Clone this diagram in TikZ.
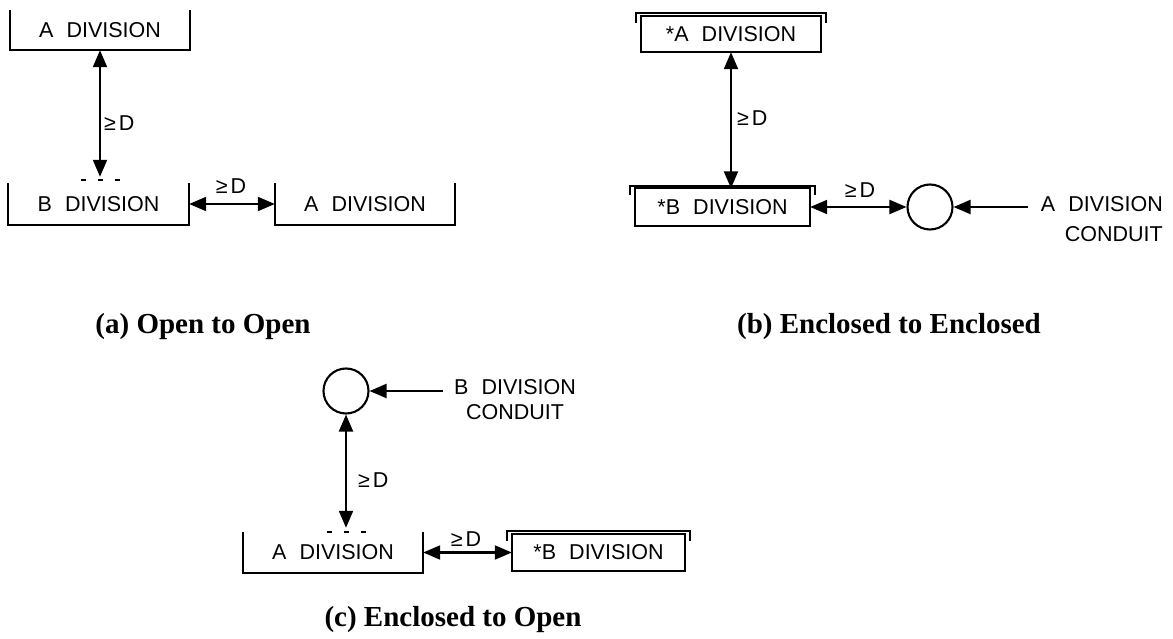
\documentclass[tikz,border=0pt]{standalone}
\usepackage{fontspec}
\setmainfont{Liberation Serif}
\newfontfamily\labfont[WordSpace=2.2]{Liberation Sans}
\usetikzlibrary{arrows.meta}
\tikzset{
  lab/.style={font={\labfont\fontsize{21.5}{25}\selectfont}, inner sep=0pt},
  boxn/.style={lab},
  boxline/.style={line width=2.1pt, line join=miter},
  conn/.style={line width=2.1pt, -{Triangle[length=17pt,width=14pt]}},
  dconn/.style={line width=2.1pt, {Triangle[length=17pt,width=14pt]}-{Triangle[length=17pt,width=14pt]}},
  cond/.style={draw, circle, line width=2.1pt, minimum size=45pt, inner sep=0pt},
  dashmark/.style={line width=2.1pt, dash pattern=on 5pt off 12pt},
  capt/.style={font={\bfseries\fontsize{29}{34}\selectfont}, inner sep=0pt},
}
\newcommand\myopenbox[1]{\draw[boxline] (#1.north west) -- (#1.south west) -- (#1.south east) -- (#1.north east);}
\newcommand\myencbox[1]{%
  \draw[boxline] (#1.north west) rectangle (#1.south east);
  \draw[boxline] ([xshift=-5pt,yshift=-7pt]#1.north west) -- ([xshift=-5pt,yshift=2.5pt]#1.north west)
     -- ([xshift=5pt,yshift=2.5pt]#1.north east) -- ([xshift=5pt,yshift=-7pt]#1.north east);}
\begin{document}
\begin{tikzpicture}[x=1pt,y=-1pt]
\useasboundingbox[fill=white] (0,0) rectangle (1173,639);

% ---------- (a) Open to Open ----------
\node[boxn, minimum width=180pt, minimum height=40pt] (aA) at (100,30) {A DIVISION};
\node[boxn, minimum width=181pt, minimum height=42pt] (aB) at (98.5,204) {B DIVISION};
\node[boxn, minimum width=180pt, minimum height=42pt] (aA2) at (365,204) {A DIVISION};
\myopenbox{aA}
\myopenbox{aB}
\myopenbox{aA2}
\draw[dconn, shorten >=6pt] (aA.south) -- (aA.south |- aB.north);
\draw[dashmark] ([xshift=-19.5pt,yshift=3pt]aA.south |- aB.north) -- ([xshift=19.5pt,yshift=3pt]aA.south |- aB.north);
\draw[dconn] (aB.east) -- (aA2.west);
\node[lab, anchor=west] (aL1) at (104,123) {≥\hspace{3pt}D};
\node[lab] (aL2) at (231,186) {≥\hspace{3pt}D};
\node[capt] (capA) at (203,327) {(a) Open to Open};

% ---------- (b) Enclosed to Enclosed ----------
\node[boxn, minimum width=180pt, minimum height=36pt] (bA) at (731,34) {*A DIVISION};
\node[boxn, minimum width=175pt, minimum height=37pt] (bB) at (722.5,207) {*B DIVISION};
\myencbox{bA}
\myencbox{bB}
\node[cond] (bC) at (930,207) {};
\draw[dconn] (bA.south) -- (bA.south |- bB.north);
\draw[dconn] (bB.east) -- (bC.west);
\coordinate (bTs) at (1028,207);
\draw[conn] (bTs) -- (bC.east);
\node[lab, align=right, anchor=north east] (bT) at (1163,196) {A DIVISION\\[5pt]CONDUIT\hspace{12pt}};
\node[lab, anchor=west] (bL1) at (737,118) {≥\hspace{3pt}D};
\node[lab] (bL2) at (860,190) {≥\hspace{3pt}D};
\node[capt] (capB) at (889,327) {(b) Enclosed to Enclosed};

% ---------- (c) Enclosed to Open ----------
\node[cond] (cC) at (346,391) {};
\coordinate (cTs) at (443,391);
\draw[conn] (cTs) -- (cC.east);
\node[lab, align=center, anchor=north] (cT) at (515,379) {B DIVISION\\CONDUIT};
\node[boxn, minimum width=180pt, minimum height=41pt] (cA) at (333,552.5) {A DIVISION};
\node[boxn, minimum width=173pt, minimum height=37pt] (cB) at (598.5,552.5) {*B DIVISION};
\myopenbox{cA}
\myencbox{cB}
\draw[dconn, shorten >=4pt] (cC.south) -- (cC.south |- cA.north);
\draw[dashmark] ([xshift=-19.5pt]cC.south |- cA.north) -- ([xshift=19.5pt]cC.south |- cA.north);
\draw[dconn] (cA.east) -- (cB.west);
\node[lab, anchor=west] (cL1) at (358,480) {≥\hspace{3pt}D};
\node[lab] (cL2) at (466,539) {≥\hspace{3pt}D};
\node[capt] (capC) at (453,620) {(c) Enclosed to Open};
\end{tikzpicture}
\end{document}
